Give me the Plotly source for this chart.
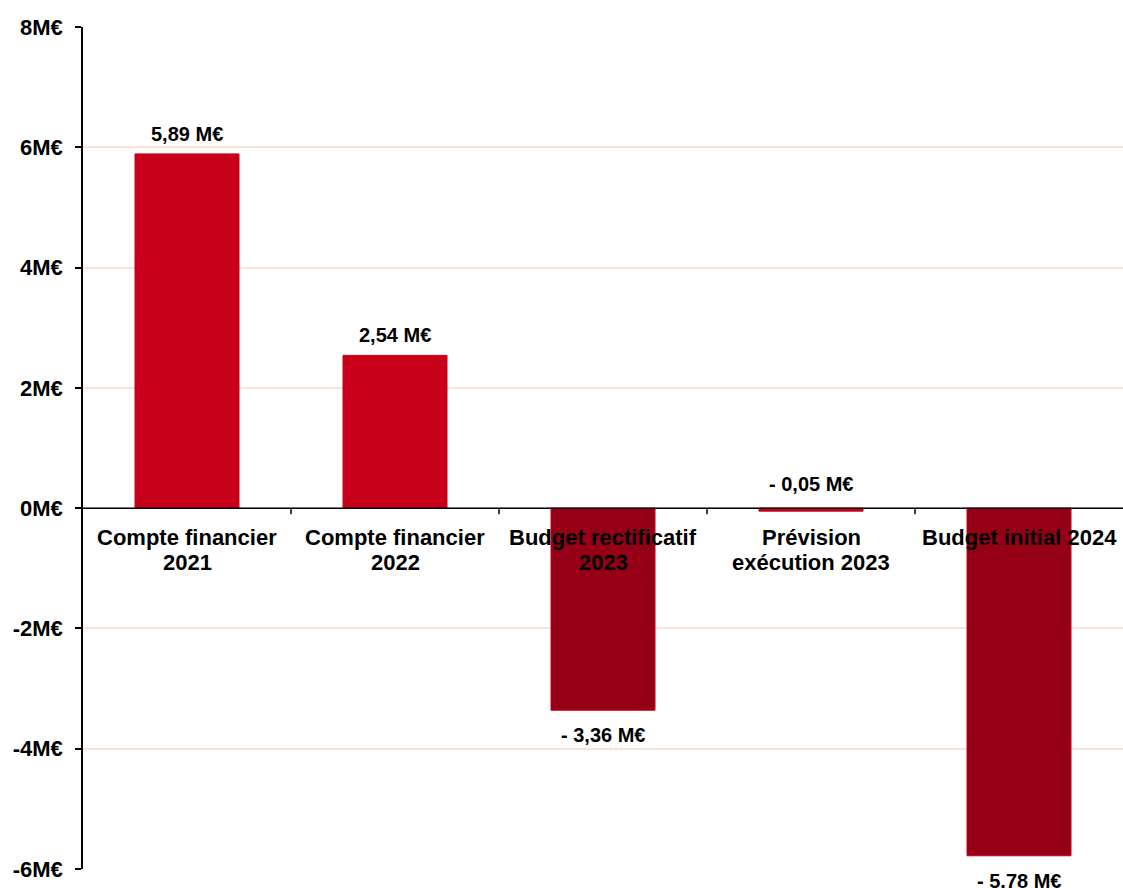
import plotly.graph_objects as go

# Budget balance by document (millions of euros)
categories = ["Compte financier<br>2021", "Compte financier<br>2022", "Budget rectificatif<br>2023",
              "Prévision<br>exécution 2023", "Budget initial 2024"]
values = [5.89, 2.54, -3.36, -0.05, -5.78]
value_labels = ["5,89 M€", "2,54 M€", "- 3,36 M€", "- 0,05 M€", "- 5.78 M€"]
y_ticks = [-6, -4, -2, 0, 2, 4, 6, 8]
y_tick_labels = ["-6M€", "-4M€", "-2M€", "0M€", "2M€", "4M€", "6M€", "8M€"]

FONT = "Liberation Sans, Arial, sans-serif"
RED = "#C8001A"
DARK = "#950016"

x = list(range(len(categories)))
small = [abs(v) < 0.5 for v in values]
fills = [RED if (v >= 0 or s) else DARK for v, s in zip(values, small)]

fig = go.Figure(go.Bar(
    x=x, y=values, width=0.5,
    marker=dict(color=fills, line=dict(color=RED, width=1)),
    hoverinfo="skip",
))

annotations = []
for i, (v, lab, s) in enumerate(zip(values, value_labels, small)):
    if v >= 0:
        y, shift = v, 20
    elif s:
        y, shift = 0, 24
    else:
        y, shift = v, -25
    annotations.append(dict(
        x=i, y=y, xref="x", yref="y", text=lab, showarrow=False,
        yanchor="middle", yshift=shift,
        font=dict(family=FONT, size=20, color="black", weight="bold"),
    ))

# category names sit just under the zero baseline, one annotation per line
for i, cat in enumerate(categories):
    for k, line in enumerate(cat.split("<br>")):
        annotations.append(dict(
            x=i, y=0, xref="x", yref="y", text=line, showarrow=False,
            yanchor="middle", yshift=-29 - 25 * k,
            font=dict(family=FONT, size=22, color="black", weight="bold"),
        ))

# zero baseline with tick marks at category boundaries
shapes = [dict(type="line", xref="paper", yref="y", x0=0, x1=1, y0=0, y1=0,
               line=dict(color="black", width=1.5), layer="above")]
for b in range(1, len(categories)):
    shapes.append(dict(type="line", xref="x", yref="y", x0=b - 0.5, x1=b - 0.5,
                       y0=0, y1=-0.1, line=dict(color="black", width=1.5)))

fig.update_layout(
    width=1123, height=888,
    margin=dict(l=83, r=0, t=27, b=19),
    plot_bgcolor="white", paper_bgcolor="white",
    showlegend=False,
    annotations=annotations,
    shapes=shapes,
    xaxis=dict(visible=False, range=[-0.5, len(categories) - 0.5]),
    yaxis=dict(
        range=[-6, 8], tickvals=y_ticks, ticktext=y_tick_labels,
        showgrid=True, gridcolor="#FBE2D4", gridwidth=2, zeroline=False,
        showline=True, linecolor="black", linewidth=1.5,
        ticks="outside", ticklen=6, tickcolor="black", tickwidth=1.5,
        ticklabelstandoff=8,
        tickfont=dict(family=FONT, size=22, color="black", weight="bold"),
    ),
)

fig.write_html("out.html")
